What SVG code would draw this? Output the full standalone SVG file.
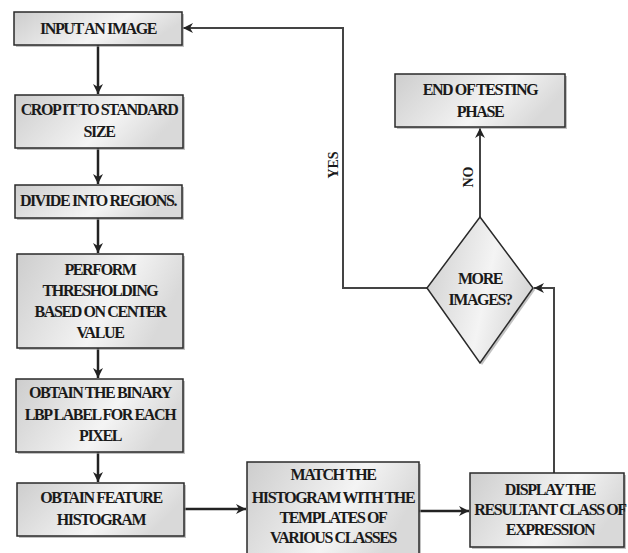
<svg xmlns="http://www.w3.org/2000/svg" width="628" height="553" viewBox="0 0 628 553">
<style>
.box{fill:url(#g);stroke:#2a2a2a;stroke-width:1.5}
.sh{fill:#9a9a9a;opacity:0.6}
.t{font-family:"Liberation Serif","DejaVu Serif",serif;font-weight:bold;font-size:16px;letter-spacing:-1.4px;fill:#1a1a1a;text-anchor:middle}
.lbl{font-family:"Liberation Serif","DejaVu Serif",serif;font-weight:bold;font-size:14px;fill:#1a1a1a;text-anchor:middle}
.c{fill:none;stroke:#222;stroke-width:2.5}
.c2{fill:none;stroke:#444;stroke-width:2}
</style>
<defs>
<linearGradient id="g" x1="0" y1="0" x2="1" y2="0.3">
<stop offset="0" stop-color="#cdcdcd"/>
<stop offset="0.65" stop-color="#f4f4f4"/>
<stop offset="1" stop-color="#d9d9d9"/>
</linearGradient>
<marker id="a" markerUnits="userSpaceOnUse" markerWidth="12" markerHeight="12" refX="10" refY="6" orient="auto">
<path d="M0,1 L10,6 L0,11 L3,6 Z" fill="#222"/>
</marker>
</defs>
<rect width="628" height="553" fill="#fff"/>
<g id="connectors">
<path class="c" d="M98 45 V94" marker-end="url(#a)"/>
<path class="c" d="M98 148 V184" marker-end="url(#a)"/>
<path class="c" d="M98 218 V253" marker-end="url(#a)"/>
<path class="c" d="M98 348 V378" marker-end="url(#a)"/>
<path class="c" d="M98 452 V482" marker-end="url(#a)"/>
<path class="c" d="M184 509 H246" marker-end="url(#a)"/>
<path class="c" d="M419 511 H469" marker-end="url(#a)"/>
<path class="c2" d="M554 473 V288 H534" marker-end="url(#a)"/>
<path class="c2" d="M427 288 H343 V28 H183" marker-end="url(#a)"/>
<path class="c2" d="M480 217 V128" marker-end="url(#a)"/>
<text class="lbl" transform="translate(338 165) rotate(-90)">YES</text>
<text class="lbl" transform="translate(473 177) rotate(-90)">NO</text>
</g>
<g id="input">
<rect class="sh" x="16" y="14" width="168" height="33"/>
<rect class="box" x="14" y="12" width="168" height="33"/>
<text class="t" x="98" y="34">INPUT AN IMAGE</text>
</g>
<g id="crop">
<rect class="sh" x="17" y="97" width="168" height="53"/>
<rect class="box" x="15" y="95" width="168" height="53"/>
<text class="t" x="99" y="115">CROP IT TO STANDARD</text>
<text class="t" x="99" y="137">SIZE</text>
</g>
<g id="divide">
<rect class="sh" x="17" y="187" width="167" height="33"/>
<rect class="box" x="15" y="185" width="167" height="33"/>
<text class="t" x="98" y="206">DIVIDE INTO REGIONS.</text>
</g>
<g id="threshold">
<rect class="sh" x="19" y="256" width="166" height="94"/>
<rect class="box" x="17" y="254" width="166" height="94"/>
<text class="t" x="100" y="275">PERFORM</text>
<text class="t" x="100" y="296">THRESHOLDING</text>
<text class="t" x="100" y="317">BASED ON CENTER</text>
<text class="t" x="100" y="338">VALUE</text>
</g>
<g id="lbp">
<rect class="sh" x="18" y="381" width="167" height="73"/>
<rect class="box" x="16" y="379" width="167" height="73"/>
<text class="t" x="100" y="398">OBTAIN THE BINARY</text>
<text class="t" x="100" y="420">LBP LABEL FOR EACH</text>
<text class="t" x="100" y="441">PIXEL</text>
</g>
<g id="feature">
<rect class="sh" x="19" y="485" width="167" height="53"/>
<rect class="box" x="17" y="483" width="167" height="53"/>
<text class="t" x="101" y="503">OBTAIN FEATURE</text>
<text class="t" x="101" y="525">HISTOGRAM</text>
</g>
<g id="match">
<rect class="sh" x="249" y="464" width="172" height="92"/>
<rect class="box" x="247" y="462" width="172" height="92"/>
<text class="t" x="333" y="480">MATCH THE</text>
<text class="t" x="333" y="503">HISTOGRAM WITH THE</text>
<text class="t" x="333" y="523">TEMPLATES OF</text>
<text class="t" x="333" y="543">VARIOUS CLASSES</text>
</g>
<g id="display">
<rect class="sh" x="472" y="475" width="154" height="74"/>
<rect class="box" x="470" y="473" width="154" height="74"/>
<text class="t" x="550" y="495">DISPLAY THE</text>
<text class="t" x="550" y="515">RESULTANT CLASS OF</text>
<text class="t" x="550" y="535">EXPRESSION</text>
</g>
<g id="decision">
<polygon class="sh" points="482,219 535,290 482,365 429,290"/>
<polygon class="box" points="480,217 533,288 480,363 427,288"/>
<text class="t" x="480" y="284">MORE</text>
<text class="t" x="480" y="305">IMAGES?</text>
</g>
<g id="end">
<rect class="sh" x="397" y="76" width="170" height="53"/>
<rect class="box" x="395" y="74" width="170" height="53"/>
<text class="t" x="480" y="95">END OF TESTING</text>
<text class="t" x="480" y="117">PHASE</text>
</g>
</svg>
